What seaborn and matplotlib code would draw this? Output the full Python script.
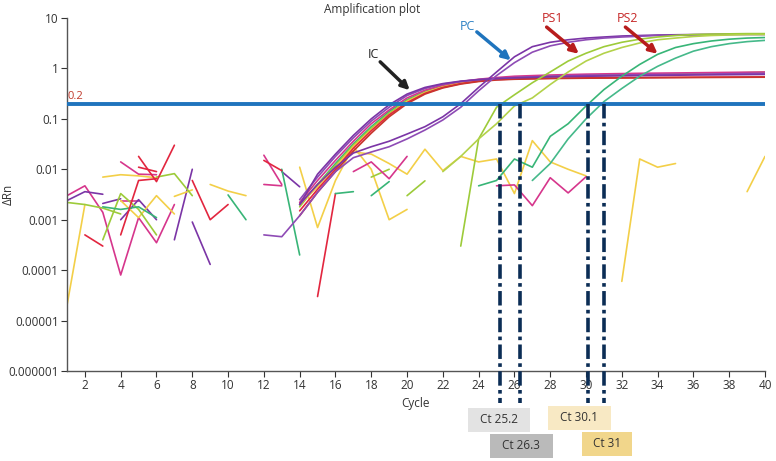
import numpy as np
import pandas as pd
import matplotlib.pyplot as plt
import matplotlib.transforms as mtransforms
from matplotlib.patches import Rectangle
import seaborn as sns

nan = np.nan

# ---- colours of the wells
PURPLE = "#7b35a6"
PURPLE2 = "#8e4bb5"
MAGENTA = "#d6368c"
RED = "#e2263f"
DARKRED = "#c8352e"
YELLOW = "#f3cf48"
YGREEN = "#9dcb3a"
GREEN = "#38b577"

# ---- background noise before amplification (cycles 1-14), nan = no reading
early_cycles = [1, 2, 3, 4, 5, 6, 7, 8, 9, 10, 11, 12, 13, 14]
magenta_1 = [0.0030, 0.0047, 0.0014, 0.00008, 0.0011, 0.00035, 0.0020, nan, nan, nan, nan, 0.019, 0.0050, nan]
magenta_2 = [nan, nan, nan, 0.014, 0.0080, 0.0078, nan, nan, nan, nan, nan, 0.0050, 0.0047, nan]
magenta_3 = [nan, nan, nan, 0.0023, 0.0023, nan, nan, nan, nan, nan, nan, nan, nan, nan]
purple_1 = [0.0024, 0.0036, 0.0032, nan, nan, nan, 0.0004, 0.010, nan, nan, nan, nan, 0.0090, 0.0045]
purple_2 = [nan, nan, 0.0021, 0.0026, nan, nan, nan, 0.0009, 0.00013, nan, nan, nan, nan, nan]
purple_3 = [nan, nan, nan, 0.0010, 0.0025, 0.0010, nan, nan, nan, nan, nan, nan, nan, nan]
yellow_1 = [0.00002, 0.0020, nan, nan, nan, nan, nan, nan, 0.0050, 0.0037, 0.0030, nan, nan, nan]
yellow_2 = [nan, nan, 0.0070, 0.0078, 0.0074, 0.0068, nan, nan, nan, nan, nan, nan, nan, nan]
yellow_3 = [nan, nan, nan, 0.0024, 0.0011, 0.0030, 0.0013, nan, nan, nan, nan, nan, nan, nan]
yellow_4 = [nan, nan, nan, nan, nan, nan, 0.0029, 0.0039, nan, nan, nan, nan, nan, nan]
ygreen_1 = [0.0022, 0.0020, 0.0017, 0.0013, nan, nan, nan, nan, nan, nan, nan, nan, nan, nan]
ygreen_2 = [nan, nan, 0.0004, 0.0033, 0.0016, 0.0005, nan, nan, nan, nan, nan, nan, nan, nan]
ygreen_3 = [nan, nan, nan, nan, nan, 0.0070, 0.0082, 0.0030, nan, nan, nan, nan, nan, nan]
green_1 = [nan, nan, 0.0018, 0.0016, 0.0018, 0.0011, nan, nan, nan, nan, nan, nan, nan, nan]
green_2 = [nan, nan, nan, nan, nan, nan, nan, nan, nan, 0.0031, 0.0010, nan, 0.010, 0.0002]
red_1 = [nan, 0.0005, 0.0003, nan, nan, nan, nan, nan, nan, nan, nan, nan, nan, nan]
red_2 = [nan, nan, nan, 0.0005, 0.0060, 0.0065, nan, nan, nan, nan, nan, nan, nan, nan]
red_3 = [nan, nan, nan, nan, 0.018, 0.0057, 0.030, nan, nan, nan, nan, nan, nan, nan]
red_4 = [nan, nan, nan, nan, 0.011, 0.0090, nan, nan, nan, nan, nan, 0.015, 0.0094, nan]
red_5 = [nan, nan, nan, nan, nan, nan, nan, 0.0060, 0.0010, 0.0020, nan, nan, nan, nan]

# ---- background noise after cycle 14
yellow_5_x = [14, 15, 16, 17, 18, 19, 20]
yellow_5 = [0.011, 0.0007, 0.0060, 0.028, 0.010, 0.0010, 0.0016]
yellow_6_x = [17, 18, 19, 20, 21, 22, 23, 24, 25, 26, 27, 28, 29, 30]
yellow_6 = [0.022, 0.020, 0.013, 0.0080, 0.025, 0.0094, 0.018, 0.014, 0.016, 0.0033, 0.037, 0.014, 0.010, 0.0074]
yellow_7_x = [32, 33, 34, 35]
yellow_7 = [0.00006, 0.016, 0.011, 0.013]
yellow_8_x = [39, 40]
yellow_8 = [0.0036, 0.018]
red_6_x = [15, 16]
red_6 = [0.00003, 0.0033]
green_3_x = [16, 17]
green_3 = [0.0033, 0.0036]
green_4_x = [18, 19]
green_4 = [0.0030, 0.0057]
ygreen_4_x = [18, 19]
ygreen_4 = [0.0070, 0.010]
ygreen_5_x = [20, 21]
ygreen_5 = [0.0030, 0.0059]
magenta_4_x = [17, 18, 19, 20]
magenta_4 = [0.0090, 0.014, 0.0065, 0.018]
magenta_5_x = [25, 26, 27, 28, 29, 30]
magenta_5 = [0.0047, 0.0049, 0.0019, 0.0068, 0.0034, 0.0071]

# ---- internal control (IC) wells
ic_cycles = [14, 15, 16, 17, 18, 19, 20, 21, 22, 23, 24, 25, 26, 28, 30, 33, 36, 40]
ic_1 = [0.0020, 0.0080, 0.020, 0.047, 0.10, 0.19, 0.31, 0.42, 0.50, 0.56, 0.60, 0.63, 0.65, 0.68, 0.70, 0.72, 0.74, 0.76]
ic_2 = [0.0025, 0.0070, 0.018, 0.042, 0.090, 0.17, 0.29, 0.40, 0.49, 0.55, 0.60, 0.63, 0.66, 0.70, 0.73, 0.75, 0.77, 0.80]
ic_3 = [0.0022, 0.0060, 0.015, 0.036, 0.080, 0.15, 0.26, 0.37, 0.47, 0.55, 0.61, 0.66, 0.70, 0.74, 0.77, 0.80, 0.82, 0.85]
ic_4 = [0.0020, 0.0050, 0.013, 0.032, 0.070, 0.14, 0.24, 0.35, 0.45, 0.53, 0.59, 0.63, 0.66, 0.70, 0.73, 0.75, 0.78, 0.82]
ic_5 = [0.0018, 0.0050, 0.012, 0.030, 0.065, 0.13, 0.23, 0.34, 0.44, 0.52, 0.58, 0.62, 0.65, 0.69, 0.72, 0.75, 0.78, 0.84]
ic_6 = [0.0015, 0.0040, 0.010, 0.026, 0.058, 0.12, 0.21, 0.32, 0.42, 0.50, 0.56, 0.60, 0.62, 0.64, 0.65, 0.66, 0.67, 0.68]
ic_7 = [0.0020, 0.0045, 0.011, 0.028, 0.060, 0.12, 0.22, 0.33, 0.43, 0.51, 0.57, 0.61, 0.64, 0.68, 0.71, 0.74, 0.77, 0.80]
ic_8 = [0.0012, 0.0035, 0.0090, 0.023, 0.052, 0.11, 0.20, 0.31, 0.41, 0.49, 0.55, 0.59, 0.61, 0.63, 0.64, 0.65, 0.66, 0.67]

# ---- positive control (PC)
pc_a_x = [14, 15, 16, 17, 18, 19, 20, 21, 22, 23, 24, 25, 26, 27, 28, 29, 30, 31, 32, 34, 36, 38, 40]
pc_a = [0.0020, 0.0050, 0.011, 0.021, 0.028, 0.036, 0.050, 0.070, 0.11, 0.20, 0.42, 0.85, 1.7, 2.7, 3.3, 3.7, 4.0, 4.2, 4.4, 4.6, 4.7, 4.8, 4.8]
pc_b_x = [12, 13, 14, 15, 16, 17, 18, 19, 20, 21, 22, 23, 24, 25, 26, 27, 28, 29, 30, 31, 32, 34, 36, 38, 40]
pc_b = [0.0005, 0.00046, 0.0012, 0.0035, 0.0090, 0.017, 0.022, 0.028, 0.040, 0.060, 0.095, 0.17, 0.36, 0.72, 1.3, 2.1, 2.8, 3.3, 3.7, 4.0, 4.2, 4.5, 4.6, 4.7, 4.7]

# ---- patient samples
ps1_a_x = [23, 24, 25, 26, 27, 28, 29, 30, 31, 32, 33, 34, 35, 36, 37, 38, 39, 40]
ps1_a = [0.0003, 0.040, 0.17, 0.30, 0.52, 0.85, 1.4, 2.0, 2.7, 3.3, 3.8, 4.2, 4.5, 4.7, 4.8, 4.85, 4.9, 4.9]
ps1_b_x = [22, 23, 24, 25, 26, 27, 28, 29, 30, 31, 32, 33, 34, 35, 36, 37, 38, 39, 40]
ps1_b = [0.0090, 0.018, 0.040, 0.080, 0.18, 0.26, 0.48, 0.85, 1.4, 2.0, 2.6, 3.2, 3.7, 4.0, 4.3, 4.5, 4.6, 4.7, 4.7]
ps2_a_x = [24, 25, 26, 27, 28, 29, 30, 31, 32, 33, 34, 35, 36, 37, 38, 39, 40]
ps2_a = [0.0047, 0.0060, 0.016, 0.011, 0.045, 0.080, 0.18, 0.38, 0.70, 1.2, 1.9, 2.6, 3.1, 3.5, 3.8, 4.0, 4.1]
ps2_b_x = [27, 28, 29, 30, 31, 32, 33, 34, 35, 36, 37, 38, 39, 40]
ps2_b = [0.0060, 0.013, 0.040, 0.10, 0.22, 0.40, 0.70, 1.1, 1.6, 2.2, 2.7, 3.1, 3.4, 3.6]

threshold = 0.2
ct_values = [25.2, 26.3, 30.1, 31]
ct_box_colors = ["#e3e3e3", "#bababa", "#f8e9c4", "#f1d68b"]

traces = [
    ("magenta_1", MAGENTA, early_cycles, magenta_1),
    ("magenta_2", MAGENTA, early_cycles, magenta_2),
    ("magenta_3", MAGENTA, early_cycles, magenta_3),
    ("purple_1", PURPLE, early_cycles, purple_1),
    ("purple_2", PURPLE, early_cycles, purple_2),
    ("purple_3", PURPLE, early_cycles, purple_3),
    ("yellow_1", YELLOW, early_cycles, yellow_1),
    ("yellow_2", YELLOW, early_cycles, yellow_2),
    ("yellow_3", YELLOW, early_cycles, yellow_3),
    ("yellow_4", YELLOW, early_cycles, yellow_4),
    ("ygreen_1", YGREEN, early_cycles, ygreen_1),
    ("ygreen_2", YGREEN, early_cycles, ygreen_2),
    ("ygreen_3", YGREEN, early_cycles, ygreen_3),
    ("green_1", GREEN, early_cycles, green_1),
    ("green_2", GREEN, early_cycles, green_2),
    ("red_1", RED, early_cycles, red_1),
    ("red_2", RED, early_cycles, red_2),
    ("red_3", RED, early_cycles, red_3),
    ("red_4", RED, early_cycles, red_4),
    ("red_5", RED, early_cycles, red_5),
    ("yellow_5", YELLOW, yellow_5_x, yellow_5),
    ("yellow_6", YELLOW, yellow_6_x, yellow_6),
    ("yellow_7", YELLOW, yellow_7_x, yellow_7),
    ("yellow_8", YELLOW, yellow_8_x, yellow_8),
    ("red_6", RED, red_6_x, red_6),
    ("green_3", GREEN, green_3_x, green_3),
    ("green_4", GREEN, green_4_x, green_4),
    ("ygreen_4", YGREEN, ygreen_4_x, ygreen_4),
    ("ygreen_5", YGREEN, ygreen_5_x, ygreen_5),
    ("magenta_4", MAGENTA, magenta_4_x, magenta_4),
    ("magenta_5", MAGENTA, magenta_5_x, magenta_5),
    ("ic_4", GREEN, ic_cycles, ic_4),
    ("ic_5", YGREEN, ic_cycles, ic_5),
    ("ic_7", YELLOW, ic_cycles, ic_7),
    ("ic_3", MAGENTA, ic_cycles, ic_3),
    ("ic_6", RED, ic_cycles, ic_6),
    ("ic_8", DARKRED, ic_cycles, ic_8),
    ("ic_2", PURPLE2, ic_cycles, ic_2),
    ("ic_1", PURPLE, ic_cycles, ic_1),
    ("pc_a", PURPLE, pc_a_x, pc_a),
    ("pc_b", PURPLE2, pc_b_x, pc_b),
    ("ps1_a", YGREEN, ps1_a_x, ps1_a),
    ("ps1_b", "#b3d24a", ps1_b_x, ps1_b),
    ("ps2_a", GREEN, ps2_a_x, ps2_a),
    ("ps2_b", "#45b98a", ps2_b_x, ps2_b),
]

# long table; a nan breaks a trace into separate segments
rows = []
for name, color, xs, ys in traces:
    seg = 0
    for x, y in zip(xs, ys):
        if np.isnan(y):
            seg += 1
            continue
        rows.append((name, f"{name}-{seg}", x, y))
df = pd.DataFrame(rows, columns=["trace", "seg", "cycle", "dRn"])
palette = {name: color for name, color, _, _ in traces}

sns.set_theme(style="ticks")
plt.rcParams["font.family"] = ["Open Sans", "DejaVu Sans"]

fig = plt.figure(figsize=(7.76, 4.61), dpi=100)
ax = fig.add_axes([67 / 776, 90 / 461, 698 / 776, 353 / 461])

sns.lineplot(data=df, x="cycle", y="dRn", hue="trace", hue_order=list(palette),
             units="seg", estimator=None, palette=palette, legend=False,
             lw=1.2, ax=ax)

ax.set_yscale("log")
ax.set_xlim(1, 40)
ax.set_ylim(1e-6, 10)
ax.set_xticks(range(2, 41, 2))
yt = [1e-6, 1e-5, 1e-4, 1e-3, 1e-2, 1e-1, 1, 10]
ax.set_yticks(yt)
ax.set_yticklabels(["0.000001", "0.00001", "0.0001", "0.001", "0.01", "0.1", "1", "10"])
ax.minorticks_off()
ax.tick_params(labelsize=8.5, length=4, width=0.8, colors="#333333", pad=2)
for s in ["top", "right"]:
    ax.spines[s].set_visible(False)
for s in ["left", "bottom"]:
    ax.spines[s].set_color("#555555")
    ax.spines[s].set_linewidth(1)
ax.set_xlabel("Cycle", fontsize=8.5, color="#333333", labelpad=3)
ax.set_ylabel("ΔRn", fontsize=8.5, color="#333333")
ax.yaxis.set_label_coords(-0.075, 0.5)

# threshold
ax.axhline(threshold, color="#1f74bd", lw=2.8, zorder=4)
ax.text(1.05, threshold * 1.08, "0.2", color="#c0392b", fontsize=8, va="bottom", ha="left")

# Ct drop lines
for ct in ct_values:
    ax.plot([ct, ct], [threshold, 2.3e-7], color="#0b2d55", lw=2.6,
            ls=(0, (4, 1.2, 1, 1.2)), clip_on=False, zorder=5)

# Ct boxes below the axis
trans = mtransforms.blended_transform_factory(ax.transData, fig.transFigure)
box_left = [23.40, 24.63, 27.87, 29.77]
box_right = [26.87, 28.15, 31.39, 32.57]
box_bottom = [0.0629, 0.0065, 0.0672, 0.0108]
box_h = 0.053
for ct, c, l, r, b in zip(ct_values, ct_box_colors, box_left, box_right, box_bottom):
    ax.add_patch(Rectangle((l, b), r - l, box_h, transform=trans, facecolor=c,
                           edgecolor="none", clip_on=False))
    ax.text((l + r) / 2, b + box_h / 2, f"Ct {ct:g}", transform=trans, ha="center",
            va="center", fontsize=8.5, color="#333333")

# labelled arrows
arrows = [("IC", "#222222", "#222222", (18.1, 1.9), (18.5, 1.35), (20.15, 0.37)),
          ("PC", "#2a80c4", "#1f74bd", (23.4, 6.9), (23.9, 5.3), (25.8, 1.45)),
          ("PS1", "#c62828", "#b71c1c", (28.1, 9.6), (27.8, 6.6), (29.6, 1.95)),
          ("PS2", "#c62828", "#b71c1c", (32.3, 9.6), (32.2, 6.6), (34.0, 1.95))]
for label, tc, ac, txy, tail, head in arrows:
    ax.text(txy[0], txy[1], label, color=tc, fontsize=9, ha="center", va="center")
    ax.annotate("", xy=head, xytext=tail,
                arrowprops=dict(arrowstyle="-|>", color=ac, lw=2.5, mutation_scale=12,
                                shrinkA=0, shrinkB=0))

fig.text(372 / 776, 1 - 9 / 461, "Amplification plot", ha="center", va="center",
         fontsize=8.5, color="#333333")

fig.savefig("out.png", dpi=100)
